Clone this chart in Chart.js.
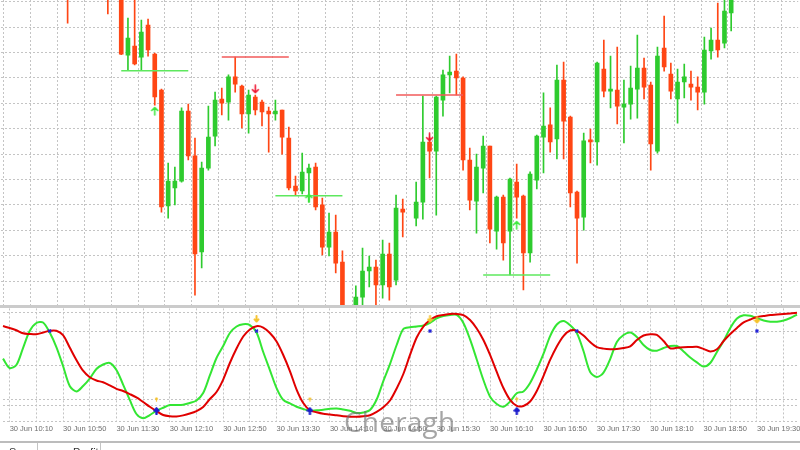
<!DOCTYPE html>
<html>
<head>
<meta charset="utf-8">
<script src="https://cdn.jsdelivr.net/npm/chart.js@4.4.1/dist/chart.umd.min.js"></script>
<style>
  body { margin: 0; width: 800px; height: 450px; background: #fff; position: relative; overflow: hidden; font-family: 'Liberation Sans', Arial, sans-serif; }
  #price { position: absolute; left: 0; top: 0; }
  #osc { position: absolute; left: 0; top: 308px; }
  .sep { position: absolute; left: 0; top: 305px; width: 800px; height: 3px; background: #cbcbcb; }
  .mark { position: absolute; left: 344px; top: 407px; font: 28px/28px 'Open Sans', sans-serif; color: rgba(110, 110, 110, 0.62); letter-spacing: 0.2px; }
  .tabs { position: absolute; left: 0; top: 441px; width: 800px; height: 9px; border-top: 2px solid #bcbcbc; overflow: hidden; font-size: 11px; color: #333; }
  .tabs span { position: absolute; top: 3px; }
  .tabs i { position: absolute; top: 0; width: 1px; height: 9px; background: #c4c4c4; }
</style>
</head>
<body>
<canvas id="price" width="800" height="305"></canvas>
<div class="sep"></div>
<canvas id="osc" width="800" height="134"></canvas>
<div class="mark">Cheragh</div>
<div class="tabs"><span style="left:9px">Swap</span><i style="left:37px"></i><span style="left:73px">Profit</span><i style="left:100px"></i></div>
<script>
// 5 minute candles, 10:05 .. 20:00
const times = [];
for (let m = 10 * 60 + 5; m <= 20 * 60; m += 5) {
  times.push(String(Math.floor(m / 60)).padStart(2, '0') + ':' + String(m % 60).padStart(2, '0'));
}
const tickLabels = ['30 Jun 10:10', '30 Jun 10:50', '30 Jun 11:30', '30 Jun 12:10', '30 Jun 12:50',
  '30 Jun 13:30', '30 Jun 14:10', '30 Jun 14:50', '30 Jun 15:30', '30 Jun 16:10', '30 Jun 16:50',
  '30 Jun 17:30', '30 Jun 18:10', '30 Jun 18:50', '30 Jun 19:30'];

const open = [136.4, 132.5, 128.5, 134.4, 140.4, 144.3, 142.3, 138.4, 136.4, 130.5,
  126.6, 122.6, 127.8, 125.4, 129.3, 126.6, 123.8, 121.5, 123.0, 99.0,
  102.6, 98.2, 110.8, 99.4, 85.2, 39.6, 46.7, 49.4, 77.0, 59.3,
  21.5, 54.5, 67.1, 81.7, 80.5, 90.4, 86.8, 75.8, 82.5, 80.5,
  77.0, 75.8, 77.4, 66.3, 47.4, 45.5, 52.6, 54.9, 40.0, 23.4,
  29.3, 17.5, -0.6, -0.2, 3.7, 14.0, 15.5, 8.5, 20.7, 10.4,
  38.4, null, 34.8, 41.1, 64.8, 61.2, 81.3, 91.2, 92.7, 90.0,
  57.7, 41.5, 54.5, 63.2, 29.7, 43.1, 29.7, 49.0, 43.5, 21.1,
  49.8, 66.7, 71.5, 66.0, 89.2, 74.6, 45.1, 35.2, 65.6, 64.8,
  93.5, 84.8, 85.2, 78.5, 79.7, 85.6, 93.9, 87.2, 61.2, 101.8,
  91.5, 81.7, 88.4, 87.6, 86.4, 84.4, 100.6, 104.9, 103.7, 115.6,
  123.8, 128.5, 133.3, 130.9, 132.5, 130.1, 128.5, 131.7, 134.8, 138.0];
const close = [132.5, 128.5, 134.4, 140.4, 144.3, 142.3, 138.4, 136.4, 130.5, 126.6,
  121.5, 127.8, 125.4, 129.3, 126.6, 123.8, 121.5, 123.0, 99.4, 105.7,
  95.5, 108.1, 101.0, 82.5, 39.2, 49.4, 49.4, 77.0, 59.3, 20.7,
  54.5, 66.7, 81.3, 80.1, 90.4, 87.6, 75.8, 83.3, 77.4, 76.6,
  75.8, 77.0, 66.7, 46.7, 45.5, 52.9, 54.5, 39.2, 23.4, 29.3,
  17.1, 0.2, -4.5, 3.7, 14.0, 15.5, 8.5, 20.7, 7.7, 38.8,
  37.2, null, 41.1, 64.8, 61.2, 82.5, 91.2, 92.3, 90.0, 57.7,
  41.9, 54.9, 63.2, 30.5, 43.1, 25.0, 50.2, 43.1, 21.1, 52.2,
  67.1, 71.1, 64.8, 89.2, 73.0, 44.7, 34.8, 65.2, 64.8, 95.9,
  84.8, 85.6, 78.9, 79.7, 86.0, 93.9, 86.4, 64.0, 98.6, 94.3,
  84.8, 88.4, 90.4, 86.4, 84.4, 101.0, 104.9, 101.0, 116.3, 123.8,
  128.5, 133.3, 130.9, 132.5, 130.1, 128.5, 131.7, 134.8, 138.0, 141.1];
const high = [140.4, 135.6, 136.4, 142.3, 147.4, 146.6, 144.3, 141.1, 138.4, 132.5,
  130.5, 129.3, 130.5, 131.7, 132.5, 128.5, 125.4, 124.6, 124.6, 113.6,
  122.6, 112.8, 113.2, 99.8, 85.6, 56.5, 54.9, 78.2, 79.7, 66.3,
  56.9, 78.9, 84.4, 86.0, 91.2, 98.2, 87.2, 85.2, 83.3, 81.3,
  78.5, 81.3, 77.4, 70.7, 51.4, 60.4, 56.1, 56.5, 42.7, 36.8,
  36.0, 21.9, 0.2, 8.1, 23.0, 19.9, 18.3, 26.2, 25.0, 43.9,
  42.3, null, 49.0, 82.9, 66.7, 82.9, 93.1, 98.6, 99.4, 90.4,
  62.4, 60.0, 67.1, 63.2, 43.5, 43.9, 50.6, 56.1, 43.9, 53.0,
  67.5, 84.1, 78.2, 95.1, 96.3, 75.0, 45.5, 68.3, 69.9, 96.3,
  104.9, 98.6, 102.2, 89.2, 94.7, 106.9, 97.8, 88.4, 102.2, 114.4,
  95.9, 93.5, 95.5, 92.7, 90.4, 106.1, 109.6, 119.5, 122.6, 126.6,
  131.7, 136.4, 135.6, 134.8, 134.4, 132.5, 134.1, 137.2, 140.4, 143.5];
const low = [128.5, 124.6, 125.4, 132.5, 138.4, 139.6, 136.4, 133.3, 127.8, 122.6,
  111.6, 121.5, 122.2, 122.6, 123.8, 121.9, 115.2, 121.1, 99.2, 93.1,
  95.1, 93.1, 98.6, 79.3, 37.2, 34.8, 40.0, 49.0, 57.7, 4.5,
  15.2, 53.7, 63.2, 75.4, 73.4, 84.4, 70.3, 68.3, 75.4, 71.1,
  60.8, 73.4, 60.0, 45.9, 43.9, 44.3, 41.1, 38.0, 20.3, 19.9,
  13.2, -2.2, -6.1, -1.4, -0.2, 7.7, 0.6, 3.3, 2.5, 8.5,
  27.4, null, 31.7, 34.4, 50.6, 36.0, 75.0, 84.1, 83.3, 53.7,
  38.0, 28.9, 44.7, 25.0, 22.6, 18.3, 12.4, 34.8, 6.5, 17.5,
  46.3, 52.6, 60.8, 58.1, 58.1, 39.2, 17.1, 30.1, 56.5, 55.7,
  82.5, 78.2, 71.9, 64.4, 73.8, 74.2, 81.7, 53.7, 60.4, 92.7,
  81.7, 72.2, 82.1, 81.3, 77.4, 79.7, 97.4, 98.2, 101.8, 108.5,
  122.6, 126.6, 128.5, 127.8, 127.0, 125.4, 126.2, 129.3, 132.5, 135.6];

// stochastic oscillator (%K green, %D red)
const stochK = [55.7, 47.4, 50.0, 65.0, 80.0, 87.1, 87.6, 78.7, 65.9, 49.2,
  31.5, 26.7, 31.5, 38.1, 46.5, 50.5, 51.8, 45.6, 32.8, 19.2,
  6.8, 3.0, 5.9, 9.6, 12.3, 14.7, 14.7, 15.0, 16.5, 18.7,
  25.3, 40.8, 56.2, 66.8, 78.3, 84.0, 86.0, 85.3, 78.7, 61.5,
  45.6, 29.7, 19.2, 16.1, 13.2, 11.2, 9.7, 10.1, 10.5, 11.4,
  11.7, 10.8, 9.6, 7.7, 8.1, 10.3, 19.6, 35.9, 50.9, 67.7,
  81.8, 83.3, 84.0, 84.9, 87.3, 91.1, 93.3, 94.2, 94.2, 87.1,
  72.6, 54.9, 36.8, 22.1, 15.6, 13.2, 17.8, 25.1, 26.7, 34.2,
  46.1, 59.8, 75.6, 85.8, 88.9, 85.1, 78.3, 62.4, 43.9, 39.5,
  43.4, 55.3, 70.3, 76.5, 78.7, 74.8, 67.7, 63.3, 62.7, 65.0,
  66.8, 66.8, 62.0, 56.7, 52.3, 48.7, 51.8, 61.5, 71.2, 82.7,
  91.1, 93.9, 93.5, 91.3, 89.3, 88.3, 88.3, 89.3, 91.5, 94.6];
const stochD = [84.4, 82.7, 80.7, 78.0, 77.4, 77.2, 78.7, 80.3, 80.3, 76.5,
  65.5, 54.5, 45.0, 39.2, 36.4, 34.8, 32.0, 29.0, 27.1, 24.4,
  21.4, 17.4, 13.2, 9.4, 5.9, 4.8, 4.6, 5.6, 7.2, 9.4,
  13.0, 20.0, 26.2, 37.2, 51.8, 64.6, 75.2, 81.4, 84.3, 83.1,
  78.3, 70.8, 58.9, 44.7, 28.4, 16.5, 10.1, 8.3, 7.0, 6.4,
  5.6, 4.9, 4.4, 4.4, 4.9, 5.7, 8.6, 12.7, 18.7, 29.3,
  42.1, 58.9, 74.3, 84.0, 89.8, 93.1, 94.2, 95.1, 95.1, 94.0,
  89.8, 82.3, 72.1, 58.9, 43.9, 29.7, 19.2, 13.9, 13.9, 17.8,
  27.1, 40.3, 54.5, 66.4, 75.6, 80.5, 80.2, 76.1, 70.3, 65.9,
  64.5, 64.0, 64.2, 65.0, 66.5, 72.1, 76.1, 77.2, 76.7, 71.2,
  64.8, 65.2, 65.7, 65.9, 66.1, 64.2, 62.0, 63.9, 71.2, 77.4,
  82.7, 87.6, 90.2, 92.4, 93.3, 94.2, 94.6, 95.1, 95.5, 96.1];

// support / resistance segments
const supportFrom = ['11:35', '13:30', '16:05'];
const supportTo = ['12:25', '14:20', '16:55'];
const supportPrice = [92.8, 43.6, 12.4];
const resistFrom = ['12:50', '15:00'];
const resistTo = ['13:40', '15:50'];
const resistPrice = [98.3, 83.3];

// signal arrows
const buyTimes = ['12:00', '13:55', '16:30'];
const buyPrices = [77.0, 42.7, 32.1];
const buyOsc = [9.4, 9.4, 9.4];
const sellTimes = ['13:15', '15:25'];
const sellPrices = [85.6, 66.7];
const crossTimes = ['10:40', '13:15', '15:25', '17:15', '19:30'];
const crossOsc = [80, 80, 80, 80, 80];
const dotUpTimes = ['12:00', '13:55', '16:30'];
const dotUpOsc = [20, 20, 20];
const dotDownTimes = ['13:15', '15:25', '19:30'];
const dotDownOsc = [90.6, 90.6, 89.8];

const priceGrid = [10, 20, 30, 40, 50, 60, 70, 80, 90, 100, 110, 120];
const oscGrid = [0, 14, 20, 50, 80, 96];

const green = '#2ecb2e', red = '#ff4614', gridCol = '#c4c4c4';
const candleColor = ctx => close[ctx.dataIndex] >= open[ctx.dataIndex] ? green : red;
const vGrid = ctx => (ctx.index % 4 === 1 ? gridCol : 'rgba(0,0,0,0)');

function arrow(color, up, w, h, lw) {
  const c = document.createElement('canvas');
  c.width = w; c.height = h;
  const g = c.getContext('2d');
  g.strokeStyle = color; g.lineWidth = lw; g.lineCap = 'round'; g.lineJoin = 'round';
  const m = w / 2;
  g.beginPath();
  if (up) {
    g.moveTo(m, 1.5); g.lineTo(m, h - 1);
    g.moveTo(1.5, h * 0.45); g.lineTo(m, 1.5); g.lineTo(w - 1.5, h * 0.45);
  } else {
    g.moveTo(m, 1); g.lineTo(m, h - 1.5);
    g.moveTo(1.5, h * 0.55); g.lineTo(m, h - 1.5); g.lineTo(w - 1.5, h * 0.55);
  }
  g.stroke();
  return c;
}

const segment = (from, to, price, color) => ({
  type: 'line', data: [{ x: from, y: price }, { x: to, y: price }],
  borderColor: color, borderWidth: 1.5, pointRadius: 0, order: 0
});
const marks = (t, v, style, extra) => Object.assign({
  type: 'line', showLine: false, data: t.map((x, k) => ({ x: x, y: v[k] })),
  pointStyle: style, order: -1
}, extra || {});

const levelSets = [];
supportFrom.forEach((f, k) => levelSets.push(segment(f, supportTo[k], supportPrice[k], '#5ee85e')));
resistFrom.forEach((f, k) => levelSets.push(segment(f, resistTo[k], resistPrice[k], '#f25a5a')));

new Chart(document.getElementById('price'), {
  type: 'bar',
  data: {
    labels: times,
    datasets: [
      { data: times.map((t, k) => low[k] === null ? null : [low[k], high[k]]), backgroundColor: candleColor,
        barThickness: 1, grouped: false, order: 3 },
      { data: times.map((t, k) => open[k] === null ? null : [open[k], close[k]]), backgroundColor: candleColor,
        barThickness: 4, minBarLength: 1, grouped: false, order: 2 },
      ...levelSets,
      marks(buyTimes, buyPrices, arrow('#3ee83e', true, 9, 10, 1.6)),
      marks(sellTimes, sellPrices, arrow('#ee1530', false, 9, 10, 1.6))
    ]
  },
  options: {
    responsive: false, animation: false,
    layout: { autoPadding: false, padding: { left: 0.6, right: 1.8, top: 0, bottom: 0 } },
    plugins: { legend: { display: false }, tooltip: { enabled: false } },
    scales: {
      x: { offset: false, grid: { color: vGrid, drawTicks: false }, border: { display: false, dash: [2, 2] },
           ticks: { display: false }, afterFit: s => { s.height = 0; } },
      y: { min: 0.6, max: 120.7, afterBuildTicks: s => { s.ticks = priceGrid.map(v => ({ value: v })); },
           grid: { color: gridCol, drawTicks: false }, border: { display: false, dash: [2, 2] },
           ticks: { display: false }, afterFit: s => { s.width = 0; } }
    }
  }
});

new Chart(document.getElementById('osc'), {
  type: 'line',
  data: {
    labels: times,
    datasets: [
      { data: stochK, borderColor: '#33e633', borderWidth: 2, pointRadius: 0, tension: 0.3, order: 2 },
      { data: stochD, borderColor: '#e00000', borderWidth: 2, pointRadius: 0, tension: 0.3, order: 1 },
      marks(crossTimes, crossOsc, 'crossRot', { pointRadius: 2, borderColor: '#2424d8', borderWidth: 1.5 }),
      marks(buyTimes, buyOsc, arrow('#1c1ccc', true, 7, 8, 2.4)),
      marks(dotUpTimes, dotUpOsc, arrow('#f5c22c', true, 5, 5, 1.4)),
      marks(dotDownTimes, dotDownOsc, arrow('#f5c22c', false, 7, 8, 2))
    ]
  },
  options: {
    responsive: false, animation: false,
    layout: { autoPadding: false, padding: { left: 0.6, right: 1.8, top: 0.4, bottom: 0 } },
    plugins: { legend: { display: false }, tooltip: { enabled: false } },
    scales: {
      x: { offset: false, grid: { color: vGrid, drawTicks: false }, border: { display: false, dash: [2, 2] },
           ticks: {
             autoSkip: false, maxRotation: 0, align: 'start', padding: 3, color: '#6e6e6e',
             font: { family: 'Liberation Sans', size: 7.5 },
             callback: function (value) {
               const lbl = '30 Jun ' + this.getLabelForValue(value);
               return tickLabels.includes(lbl) ? lbl : '';
             }
           },
           afterFit: s => { s.height = 20.3; } },
      y: { min: 0, max: 100, afterBuildTicks: s => { s.ticks = oscGrid.map(v => ({ value: v })); },
           grid: { color: gridCol, drawTicks: false }, border: { display: false, dash: [2, 2] },
           ticks: { display: false }, afterFit: s => { s.width = 0; } }
    }
  }
});
</script>
</body>
</html>
